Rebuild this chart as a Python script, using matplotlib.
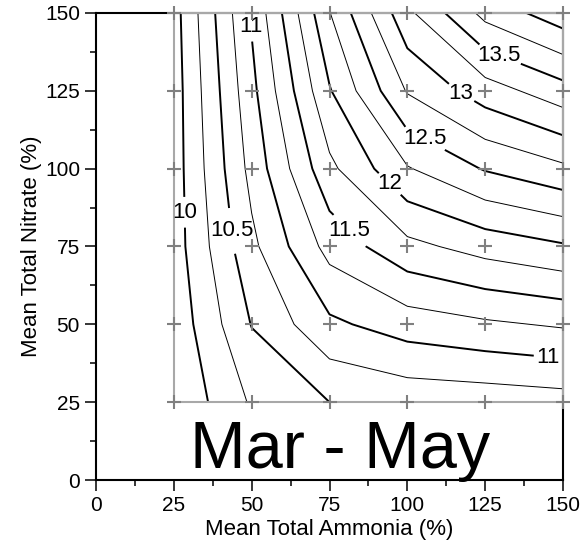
import numpy as np
import matplotlib.pyplot as plt
from matplotlib.ticker import MultipleLocator
from matplotlib.patches import Rectangle

plt.rcParams['font.family'] = ['Liberation Sans', 'DejaVu Sans']

# model grid (percent of mean concentrations)
ammonia = [25, 50, 75, 100, 125, 150]
nitrate = [25, 50, 75, 100, 125, 150]

# response surface, rows follow nitrate (25 -> 150), columns follow ammonia
z_rows = [
    [9.78, 10.28, 10.50, 10.58, 10.60, 10.64],
    [9.83, 10.51, 10.95, 11.12, 11.21, 11.28],
    [9.88, 10.69, 11.34, 11.68, 11.85, 11.97],
    [9.88, 10.83, 11.69, 12.23, 12.52, 12.70],
    [9.88, 10.93, 11.98, 12.77, 13.13, 13.40],
    [9.90, 11.03, 12.24, 13.19, 13.83, 14.15],
]

major_levels = [10, 10.5, 11, 11.5, 12, 12.5, 13, 13.5, 14]
minor_levels = [10.25, 10.75, 11.25, 11.75, 12.25, 12.75, 13.25, 13.75]
label_levels = [10, 10.5, 11, 11.5, 12, 12.5, 13, 13.5]
# where the labels sit (ammonia, nitrate)
label_pos = [(28.6, 86), (43.6, 80), (49.2, 145.5), (79.4, 78), (92.3, 93),
             (104.6, 107.8), (116.4, 122.8), (128.7, 134.2), (145.3, 39.3)]

X, Y = np.meshgrid(ammonia, nitrate)
Z = np.array(z_rows)

fig = plt.figure(figsize=(5.86, 5.51), dpi=100)
ax = fig.add_axes([96 / 586, 71 / 551, 467 / 586, 467 / 551])

ax.contour(X, Y, Z, levels=minor_levels, colors='black', linewidths=0.7)
cs = ax.contour(X, Y, Z, levels=major_levels, colors='black', linewidths=1.4)
labels = ax.clabel(cs, levels=label_levels, manual=label_pos, inline=True,
                   inline_spacing=6, fontsize=16, fmt=lambda v: f'{v:g}')
for t in labels:
    t.set_rotation(0)

# data region outline and sample points
ax.add_patch(Rectangle((25, 25), 125, 125, fill=False, edgecolor='#a8a8a8',
                       linewidth=1.5, zorder=3, clip_on=False))
ax.plot(X.ravel(), Y.ravel(), '+', color='#808080', markersize=10,
        markeredgewidth=1.5, zorder=4, clip_on=False)

ax.text(78.4, 3.8, 'Mar - May', fontsize=48, ha='center', va='baseline')

ax.set_xlim(0, 150)
ax.set_ylim(0, 150)
ax.set_xticks(range(0, 151, 25))
ax.set_yticks(range(0, 151, 25))
ax.xaxis.set_minor_locator(MultipleLocator(12.5))
ax.yaxis.set_minor_locator(MultipleLocator(12.5))
ax.tick_params(which='major', direction='out', length=8, width=1.1, labelsize=15)
ax.tick_params(which='minor', direction='out', length=4.5, width=1.1)
for s in ax.spines.values():
    s.set_linewidth(1.5)

ax.set_xlabel('Mean Total Ammonia (%)', fontsize=16, labelpad=3)
ax.set_ylabel('Mean Total Nitrate (%)', fontsize=16, labelpad=2)

fig.savefig('out.png', dpi=100)
